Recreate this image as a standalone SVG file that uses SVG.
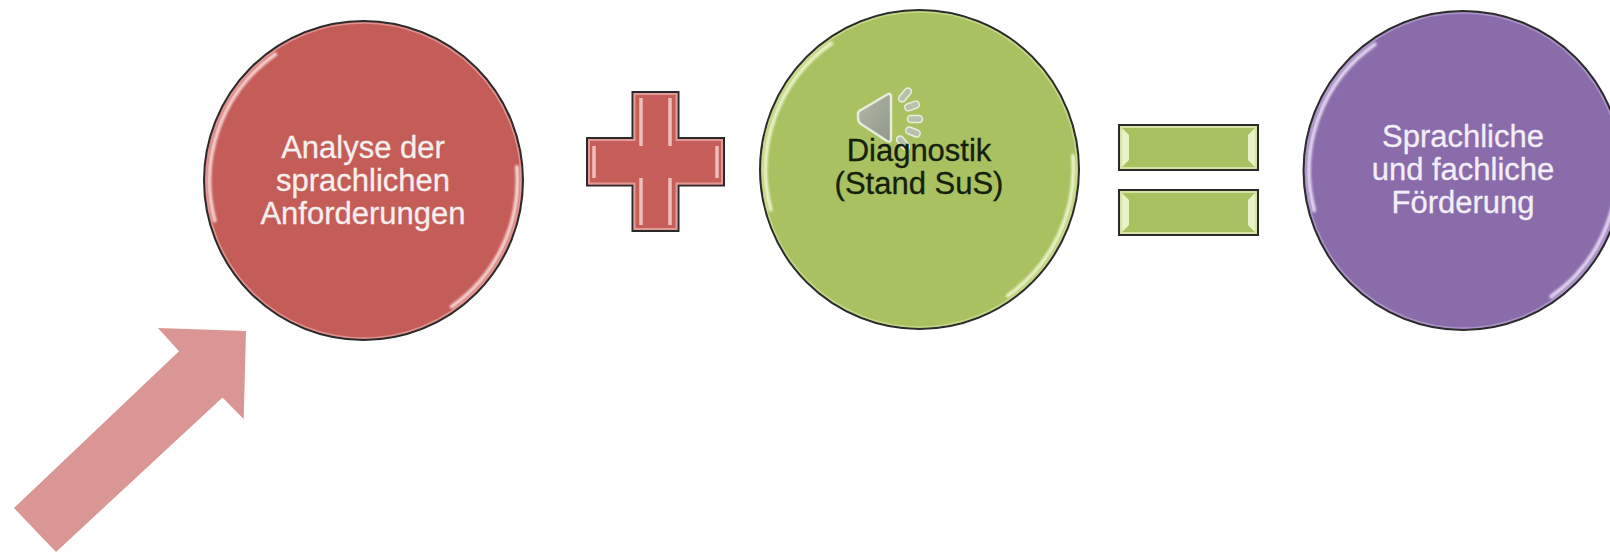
<svg xmlns="http://www.w3.org/2000/svg" width="1610" height="552" viewBox="0 0 1610 552">
<style>
.lbl{font-family:"Liberation Sans",Arial,sans-serif;font-size:31px;text-anchor:middle;stroke-width:.3}
.w{fill:#f7eeee;stroke:#f7eeee}.k{fill:#14200a;stroke:#14200a}.wp{fill:#f4eef8;stroke:#f4eef8}
.ring{stroke:#2c2c2c;stroke-width:2}
.gl{fill:none;stroke-width:4;stroke-linecap:round;filter:url(#soft)}
.edge{fill:none;stroke-width:1.500;opacity:.7}
.bev{fill:none;stroke-width:3.500;filter:url(#tiny)}
.box{stroke:#2a2a2a;stroke-width:2}
.dash{fill:#b9c0ac;stroke:#e8eedd;stroke-width:1.500}
</style>
<defs>
<filter id="soft" x="-20%" y="-20%" width="140%" height="140%"><feGaussianBlur stdDeviation="1"/></filter>
<filter id="tiny" x="-20%" y="-20%" width="140%" height="140%"><feGaussianBlur stdDeviation="0.5"/></filter>
<linearGradient id="spk" x1="0" y1="0" x2="1" y2="1"><stop offset="0" stop-color="#b4b9a8"/><stop offset="1" stop-color="#8f9688"/></linearGradient>
<path id="arc-left" d="M-148.800 39.900A154 154 0 0 1 -88.300 -126.100"/>
<path id="arc-right" d="M153.400 -13.400A154 154 0 0 1 88.300 126.100"/>
</defs>
<rect width="1610" height="552" fill="#fff"/>

<g id="node-analyse">
<circle class="ring" cx="363.500" cy="180.500" r="159.500" fill="#c45c58"/>
<circle class="edge" cx="363.500" cy="180.500" r="157.500" stroke="#e8a8a5"/>
<g class="gl" stroke="#f6d2d0" transform="translate(363.500 180.500)"><use href="#arc-left"/><use href="#arc-right"/></g>
<text class="lbl w" x="363" y="158">Analyse der</text>
<text class="lbl w" x="363" y="191">sprachlichen</text>
<text class="lbl w" x="363" y="224">Anforderungen</text>
</g>

<g id="node-plus">
<path class="box" fill="#c65e5a" d="M632.500 92H678.500V138H724V185.500H678.500V231H632.500V185.500H587V138H632.500Z"/>
<path fill="none" stroke="#e39a97" stroke-width="2" d="M634.500 94H676.500V140H722V183.500H676.500V229H634.500V183.500H589V140H634.500Z"/>
<path class="bev" stroke="#efbdba" d="M641 98V146M670 98V146M641 178V225M670 178V225M594 146V178M717 146V178"/>
</g>

<g id="node-diagnostik">
<circle class="ring" cx="919.500" cy="169.500" r="159.500" fill="#a9c161"/>
<circle class="edge" cx="919.500" cy="169.500" r="157.500" stroke="#cfe09a"/>
<g class="gl" stroke="#eaf3c6" transform="translate(919.500 169.500)"><use href="#arc-left"/><use href="#arc-right"/></g>
<path d="M861 110L888 94Q891 93 891 97V139Q891 143 887 141L861 124Q858 122 858 118V114Q858 111 861 110Z" fill="url(#spk)" stroke="#e6ebdc" stroke-width="2.500" stroke-linejoin="round"/>
<rect class="dash" x="-8" y="-3.500" width="16" height="7" rx="3.500" transform="translate(905 95) rotate(-50)"/>
<rect class="dash" x="-7.500" y="-3.500" width="15" height="7" rx="3.500" transform="translate(912 106) rotate(-20)"/>
<rect class="dash" x="-7.500" y="-3.500" width="15" height="7" rx="3.500" transform="translate(915 119)"/>
<rect class="dash" x="-7.500" y="-3.500" width="15" height="7" rx="3.500" transform="translate(913 132) rotate(22)"/>
<rect class="dash" x="-8" y="-3.500" width="16" height="7" rx="3.500" transform="translate(903 143) rotate(50)"/>
<text class="lbl k" x="919" y="161">Diagnostik</text>
<text class="lbl k" x="919" y="194">(Stand SuS)</text>
</g>

<g id="node-equals">
<rect class="box" x="1119" y="125" width="139" height="45" fill="#a9c161"/>
<rect class="box" x="1119" y="190" width="139" height="45" fill="#a9c161"/>
<rect x="1121" y="127" width="135" height="41" fill="none" stroke="#d5e3a4" stroke-width="2"/>
<rect x="1121" y="192" width="135" height="41" fill="none" stroke="#d5e3a4" stroke-width="2"/>
<path fill="#e9f2c4" d="M1122 128L1129 135V160L1122 167ZM1255 128L1248 135V160L1255 167ZM1122 193L1129 200V225L1122 232ZM1255 193L1248 200V225L1255 232Z"/>
</g>

<g id="node-foerderung">
<circle class="ring" cx="1463" cy="170.500" r="159.500" fill="#8a6cab"/>
<circle class="edge" cx="1463" cy="170.500" r="157.500" stroke="#b7a2d0"/>
<g class="gl" stroke="#e2d6f0" transform="translate(1463 170.500)"><use href="#arc-left"/><use href="#arc-right"/></g>
<text class="lbl wp" x="1463" y="147">Sprachliche</text>
<text class="lbl wp" x="1463" y="180">und fachliche</text>
<text class="lbl wp" x="1463" y="213">Förderung</text>
</g>

<g id="connectors">
<path fill="#da9694" d="M158 328L246 331L243.700 419L222.500 397.500L56 552L14 508L179 351.300Z"/>
</g>
</svg>
